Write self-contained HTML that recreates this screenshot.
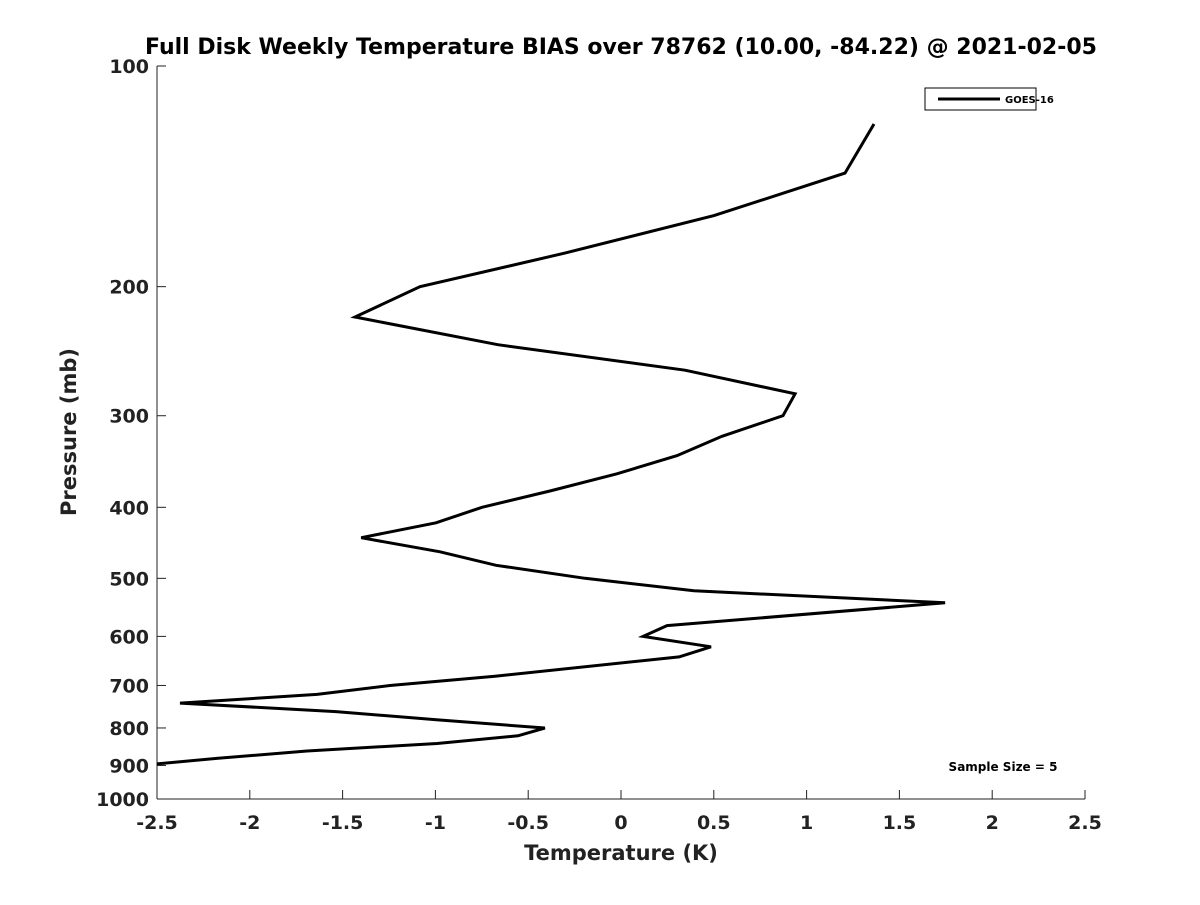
<!DOCTYPE html>
<html><head><meta charset="utf-8"><style>
body{margin:0;background:#fff}
svg text{font-family:"DejaVu Sans","Liberation Sans",sans-serif;font-weight:bold;fill:#222}
</style></head><body>
<svg id="chart" width="1200" height="900" xmlns="http://www.w3.org/2000/svg">
<rect width="1200" height="900" fill="#fff"/>
<text x="621" y="54" font-size="22" text-anchor="middle" style="fill:#000">Full Disk Weekly Temperature BIAS over 78762 (10.00, -84.22) @ 2021-02-05</text>
<g id="axes"></g>
<defs><clipPath id="clip"><rect x="157" y="66" width="928" height="733"/></clipPath></defs>
<g id="series" clip-path="url(#clip)"></g>
<g>
<rect x="925" y="88" width="111" height="22" fill="#fff" stroke="#000" stroke-width="1"/>
<line x1="938" y1="99" x2="1000" y2="99" stroke="#000" stroke-width="3"/>
<text x="1005" y="103" font-size="10" style="fill:#000">GOES-16</text>
</g>
<text x="1003" y="771" font-size="12" text-anchor="middle" style="fill:#000">Sample Size = 5</text>
<text x="621" y="860" font-size="21" text-anchor="middle">Temperature (K)</text>
<text x="0" y="0" font-size="21" text-anchor="middle" transform="translate(76,432) rotate(-90)">Pressure (mb)</text>
</svg>
<script>
const pressures=[120,140,160,180,200,220,240,260,280,300,320,340,360,380,400,420,440,460,480,500,520,540,580,600,620,640,680,700,720,740,760,780,800,820,840,860,880,900];
const biasValues=[1.363,1.207,0.501,-0.302,-1.083,-1.433,-0.663,0.345,0.938,0.873,0.544,0.302,-0.022,-0.383,-0.749,-0.997,-1.40,-0.975,-0.673,-0.194,0.393,1.746,0.248,0.119,0.485,0.313,-0.679,-1.245,-1.638,-2.376,-1.536,-0.986,-0.41,-0.555,-0.991,-1.692,-2.171,-2.6];
const xTicks=[-2.5,-2,-1.5,-1,-0.5,0,0.5,1,1.5,2,2.5];
const xTickLabels=["-2.5","-2","-1.5","-1","-0.5","0","0.5","1","1.5","2","2.5"];
const yTicks=[100,200,300,400,500,600,700,800,900,1000];
const yTickLabels=["100","200","300","400","500","600","700","800","900","1000"];
const L=157,R=1085,T=66,B=799;
const xs=v=>L+(v+2.5)/5*(R-L);
const ys=p=>T+(Math.log10(p)-2)*(B-T);
const NS="http://www.w3.org/2000/svg";
const axes=document.getElementById('axes');
function mk(tag,attrs,parent){const e=document.createElementNS(NS,tag);for(const k in attrs)e.setAttribute(k,attrs[k]);parent.appendChild(e);return e;}
let a=mk('line',{x1:L,y1:T,x2:L,y2:B,stroke:'#222','stroke-width':1},axes);


a=mk('line',{x1:L,y1:B,x2:R,y2:B,stroke:'#222','stroke-width':1},axes);


xTicks.forEach((v,i)=>{const x=xs(v);
 const t=mk('line',{x1:x,y1:B,x2:x,y2:B-9,stroke:'#222'},axes);
 
 
 const tx=mk('text',{x:x,y:B+30,'font-size':19,'text-anchor':'middle'},axes);tx.textContent=xTickLabels[i];
 
 
});
yTicks.forEach((p,i)=>{const y=ys(p);
 const t=mk('line',{x1:L,y1:y,x2:L+9,y2:y,stroke:'#222'},axes);
 
 
 const tx=mk('text',{x:L-8,y:y+7,'font-size':19,'text-anchor':'end'},axes);tx.textContent=yTickLabels[i];
 
 
});
const d=pressures.map((p,i)=>(i?'L':'M')+xs(biasValues[i]).toFixed(1)+','+ys(p).toFixed(1)).join(' ');
const line=mk('path',{d:d,fill:'none',stroke:'#000','stroke-width':3,'stroke-linejoin':'miter'},document.getElementById('series'));


</script>
</body></html>
